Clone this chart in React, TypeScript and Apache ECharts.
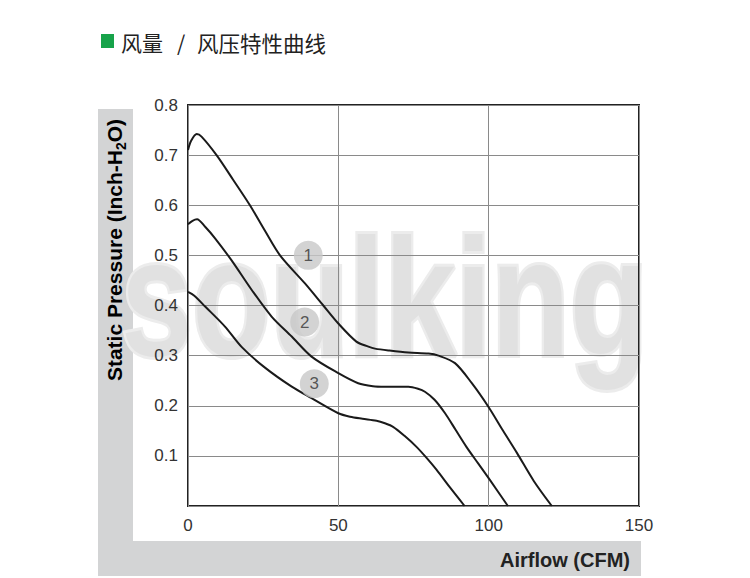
import React, { useEffect, useRef } from "react";
import * as echarts from "echarts";

const xTicks = [0, 50, 100, 150];
const yTickLabels = ["0.1", "0.2", "0.3", "0.4", "0.5", "0.6", "0.7", "0.8"];

const curve1: [number, number][] = [
  [0, 0.71], [1, 0.728], [2.9, 0.742], [4.5, 0.737], [9.5, 0.7], [15, 0.651],
  [20.6, 0.6], [25.5, 0.55], [30.6, 0.5], [38.9, 0.444], [45, 0.4], [50, 0.364],
  [56, 0.328], [60, 0.318], [62.2, 0.314], [67, 0.31], [73.3, 0.306], [80, 0.304],
  [83.3, 0.3], [88.8, 0.285], [94.4, 0.245], [99.9, 0.198], [104.8, 0.15],
  [109.4, 0.106], [115, 0.05], [121, 0],
];
const curve2: [number, number][] = [
  [0, 0.562], [1.5, 0.569], [3, 0.572], [5.7, 0.557], [9, 0.534], [14.5, 0.49],
  [21.2, 0.431], [27.8, 0.378], [34.5, 0.338], [41.1, 0.298], [50, 0.265],
  [56.6, 0.245], [61.5, 0.239], [65.5, 0.238], [73.3, 0.238], [76.5, 0.234],
  [78.8, 0.228], [82, 0.212], [85.5, 0.185], [89, 0.152], [92.6, 0.118],
  [96.5, 0.085], [100.4, 0.052], [106.4, 0],
];
const curve3: [number, number][] = [
  [0, 0.427], [2, 0.42], [5.7, 0.398], [12.3, 0.358], [17.9, 0.317], [25.6, 0.276],
  [34.5, 0.238], [41.1, 0.215], [50, 0.185], [53.9, 0.178], [58, 0.174],
  [62.7, 0.17], [65.5, 0.165], [68.2, 0.158], [72, 0.14], [76, 0.118],
  [79.5, 0.095], [82.7, 0.072], [87, 0.038], [92, 0],
];
const markerNames = ["1", "2", "3"];
const markerPoints: [number, number][] = [[40, 0.5], [38.8, 0.367], [42, 0.244]];

export default function App() {
  const ref = useRef<HTMLDivElement>(null);
  useEffect(() => {
    if (!ref.current) return;
    const chart = echarts.init(ref.current, null, { renderer: "svg" });
    const lineSeries = (data: [number, number][]) => ({
      type: "line",
      data,
      smooth: 0.3,
      showSymbol: false,
      symbol: "none",
      lineStyle: { color: "#1a1a1a", width: 2 },
      z: 3,
    });
    const font = "Liberation Sans, Arial, sans-serif";
    chart.setOption({
      animation: false,
      backgroundColor: "#ffffff",
      grid: {
        left: 188,
        right: 111,
        top: 105,
        bottom: 72,
        show: true,
        borderColor: "#222",
        borderWidth: 2,
        backgroundColor: "transparent",
        z: 1,
      },
      xAxis: {
        type: "value",
        min: 0,
        max: 150,
        interval: 50,
        axisLine: { show: false },
        axisTick: { show: false },
        splitLine: { show: true, lineStyle: { color: "#8a8a8a", width: 1 } },
        axisLabel: {
          margin: 11,
          fontSize: 17,
          color: "#333",
          fontFamily: font,
          formatter: (v: number) => (xTicks.includes(v) ? String(v) : ""),
        },
        z: 1,
      },
      yAxis: {
        type: "value",
        min: 0,
        max: 0.8,
        interval: 0.1,
        axisLine: { show: false },
        axisTick: { show: false },
        splitLine: { show: true, lineStyle: { color: "#8a8a8a", width: 1 } },
        axisLabel: {
          margin: 10,
          fontSize: 17,
          color: "#333",
          fontFamily: font,
          formatter: (v: number) => {
            const s = v.toFixed(1);
            return yTickLabels.includes(s) ? s : "";
          },
        },
        z: 1,
      },
      series: [
        lineSeries(curve1),
        lineSeries(curve2),
        lineSeries(curve3),
        {
          type: "scatter",
          data: markerPoints.map((p, i) => ({ value: p, name: markerNames[i] })),
          symbolSize: 29,
          itemStyle: { color: "#c8c8c8" },
          label: {
            show: true,
            position: "inside",
            formatter: (p: any) => p.name,
            fontSize: 17,
            color: "#333",
            fontFamily: font,
          },
          z: 4,
        },
      ],
      graphic: {
        elements: [
          {
            type: "rect",
            z: -10,
            shape: { x: 98, y: 109, width: 35, height: 467 },
            style: { fill: "#d3d4d5" },
          },
          {
            type: "rect",
            z: -10,
            shape: { x: 98, y: 541, width: 543, height: 35 },
            style: { fill: "#d3d4d5" },
          },
          {
            type: "text",
            z: -5,
            x: 121,
            y: 381,
            scaleX: 0.763,
            style: {
              text: "soulking",
              fontSize: 168,
              fontWeight: "bold",
              fontFamily: font,
              fill: "#e1e1e1",
              stroke: "#ececec",
              lineWidth: 6,
              verticalAlign: "bottom",
            },
          },
          {
            type: "rect",
            z: 10,
            shape: { x: 101, y: 34, width: 13, height: 14 },
            style: { fill: "#17a34a" },
          },
          {
            type: "text",
            z: 10,
            x: 121,
            y: 42,
            style: {
              text: "风量",
              fontSize: 21,
              fontFamily: "Noto Sans CJK SC",
              fill: "#222",
              verticalAlign: "middle",
            },
          },
          {
            type: "text",
            z: 10,
            x: 177,
            y: 42,
            style: {
              text: "/",
              fontSize: 21,
              fontFamily: "Noto Sans CJK SC",
              fill: "#222",
              verticalAlign: "middle",
            },
          },
          {
            type: "text",
            z: 10,
            x: 197,
            y: 42,
            style: {
              text: "风压特性曲线",
              fontSize: 21.5,
              fontFamily: "Noto Sans CJK SC",
              fill: "#222",
              verticalAlign: "middle",
            },
          },
          {
            type: "text",
            z: 10,
            x: 114,
            y: 250,
            rotation: Math.PI / 2,
            style: {
              text: "{a|Static Pressure (Inch-H}{b|2}{a|O)}",
              align: "center",
              verticalAlign: "middle",
              rich: {
                a: {
                  fontSize: 21,
                  fontWeight: "bold",
                  fontFamily: font,
                  color: "#222",
                  lineHeight: 28,
                },
                b: {
                  fontSize: 14,
                  fontWeight: "bold",
                  fontFamily: font,
                  color: "#222",
                  lineHeight: 14,
                  verticalAlign: "bottom",
                },
              },
            },
          },
          {
            type: "text",
            z: 10,
            x: 630,
            y: 560,
            style: {
              text: "Airflow (CFM)",
              fontSize: 20,
              fontWeight: "bold",
              fontFamily: font,
              fill: "#222",
              align: "right",
              verticalAlign: "middle",
            },
          },
        ],
      },
    });
    return () => chart.dispose();
  }, []);
  return (
    <div
      ref={ref}
      style={{ position: "absolute", left: 0, top: 0, width: 750, height: 578 }}
    />
  );
}
